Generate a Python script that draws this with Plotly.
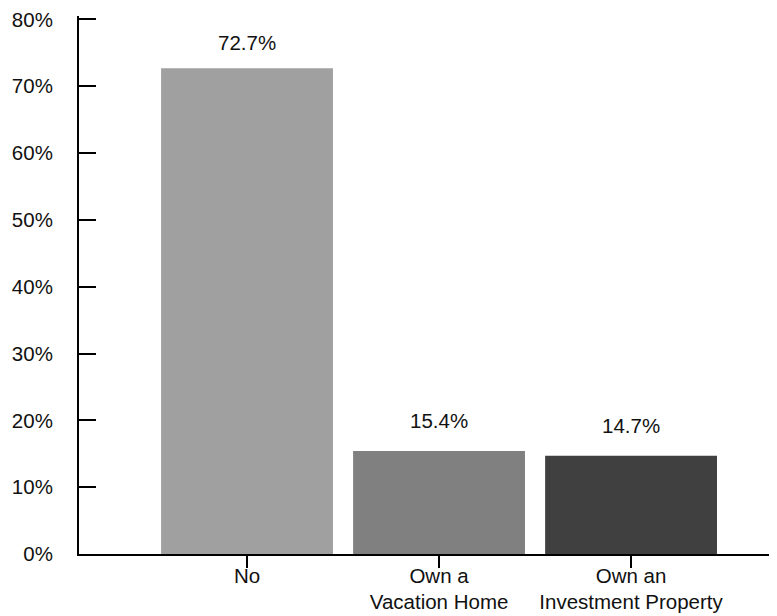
import plotly.graph_objects as go

categories = ["No", "Own a<br>Vacation Home", "Own an<br>Investment Property"]
values = [72.7, 15.4, 14.7]
labels = ["72.7%", "15.4%", "14.7%"]
colors = ["#a0a0a0", "#808080", "#404040"]
y_ticks = [0, 10, 20, 30, 40, 50, 60, 70, 80]
y_tick_labels = [f"{v}%" for v in y_ticks]

# style: vertical offsets (px) of the value labels above each bar
label_shifts = [12, 17, 17]

font = dict(family="Liberation Sans, Arial, Helvetica, sans-serif", size=20.5, color="#111111")

fig = go.Figure(go.Bar(
    x=list(range(len(categories))),
    y=values,
    marker=dict(color=colors, line=dict(width=0)),
    width=0.895,
    hoverinfo="skip",
))

for i, (v, t) in enumerate(zip(values, labels)):
    fig.add_annotation(x=i, y=v, text=t, showarrow=False, yanchor="bottom",
                       yshift=label_shifts[i], font=font)

# page body has an 8px margin, so the figure is sized/offset to compensate
fig.update_layout(
    width=769, height=608,
    margin=dict(l=71, r=0, t=8, b=62, autoexpand=False),
    paper_bgcolor="white", plot_bgcolor="white",
    font=font,
    showlegend=False,
    bargap=0.1,
)
fig.update_xaxes(
    range=[-0.875, 2.76],
    tickmode="array",
    tickvals=[0, 1, 2],
    ticktext=categories,
    tickson="boundaries",
    ticks="outside", ticklen=12, tickwidth=2, tickcolor="black",
    ticklabelstandoff=-10,
    showline=True, linecolor="black", linewidth=2,
    showgrid=False, zeroline=False,
    automargin=False,
)
fig.update_yaxes(
    range=[0, 80.5],
    tickmode="array",
    tickvals=y_ticks,
    ticktext=y_tick_labels,
    ticks="inside", ticklen=17, tickwidth=2, tickcolor="black",
    ticklabelstandoff=20,
    ticklabeloverflow="allow",
    showline=True, linecolor="black", linewidth=2,
    showgrid=False, zeroline=False,
    automargin=False,
)

fig.write_html("out.html")
